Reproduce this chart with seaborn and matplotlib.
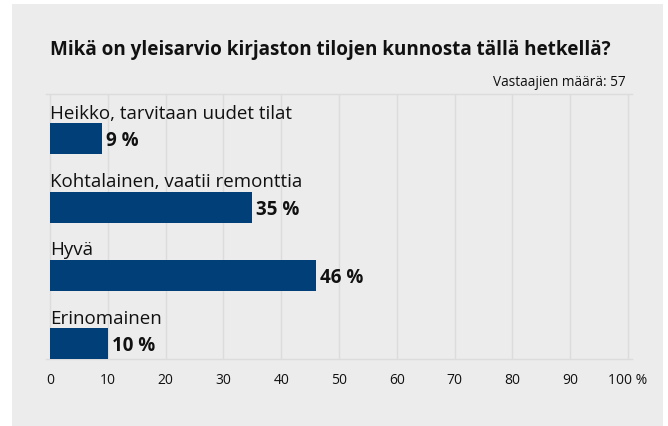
import matplotlib
matplotlib.use("Agg")
import matplotlib.pyplot as plt
import seaborn as sns
import pandas as pd
from matplotlib.patches import Rectangle

categories = ["Heikko, tarvitaan uudet tilat", "Kohtalainen, vaatii remonttia", "Hyvä", "Erinomainen"]
values = [9, 35, 46, 10]
xticks = [0, 10, 20, 30, 40, 50, 60, 70, 80, 90, 100]
xticklabels = ["0", "10", "20", "30", "40", "50", "60", "70", "80", "90", "100 %"]
title = "Mikä on yleisarvio kirjaston tilojen kunnosta tällä hetkellä?"
note = "Vastaajien määrä: 57"

sns.set_theme(style="white")
plt.rcParams['font.family'] = ['Open Sans', 'DejaVu Sans']

BG = "#ececec"
GRID = "#dcdcdc"
BAR = "#003f78"

W, H = 668, 427
fig = plt.figure(figsize=(W / 100, H / 100), dpi=100)
fig.patch.set_facecolor("white")
fig.patches.append(Rectangle((12 / W, 0), (663 - 12) / W, 1 - 5 / H,
                             transform=fig.transFigure, facecolor=BG, edgecolor="none", zorder=-10))

x0, x1 = 46.5, 631.5
ytop, ybot = 95, 360
ax = fig.add_axes([x0 / W, 1 - ybot / H, (x1 - x0) / W, (ybot - ytop) / H])
ax.set_facecolor(BG)

df = pd.DataFrame({"cat": categories, "val": values})
bw = 0.455
sns.barplot(data=df, x="val", y="cat", order=categories, color=BAR, width=bw,
            saturation=1, ax=ax, zorder=3, linewidth=0, edgecolor="none")

ax.set_xlim(-0.6, 100.6)
ax.set_ylim(3 + bw / 2, -0.66)
ax.set_xticks(xticks)
ax.set_xticklabels(xticklabels, fontsize=10, color="#111111")
ax.set_yticks([])
ax.set_xlabel("")
ax.set_ylabel("")
ax.tick_params(axis="x", length=0, pad=9)
ax.xaxis.grid(True, color=GRID, linewidth=1, zorder=0)
ax.set_axisbelow(True)
for s in ["left", "right"]:
    ax.spines[s].set_visible(False)
for s in ["top", "bottom"]:
    ax.spines[s].set_color(GRID)
    ax.spines[s].set_linewidth(1)

for i, (c, v) in enumerate(zip(categories, values)):
    ax.text(0, i - bw / 2 - 0.02, c, ha="left", va="bottom", fontsize=13.5, color="#111111")
    ax.text(v + 0.7, i + 0.02, f"{v} %", ha="left", va="center", fontsize=13.5,
            fontweight="bold", color="#111111")

fig.text(50 / W, 1 - 50 / H, title, ha="left", va="center", fontsize=13.6,
         fontweight="bold", color="#111111")
fig.text(626 / W, 1 - 83 / H, note, ha="right", va="center", fontsize=9.8, color="#111111")

fig.savefig("out.png", dpi=100, facecolor=fig.get_facecolor())
